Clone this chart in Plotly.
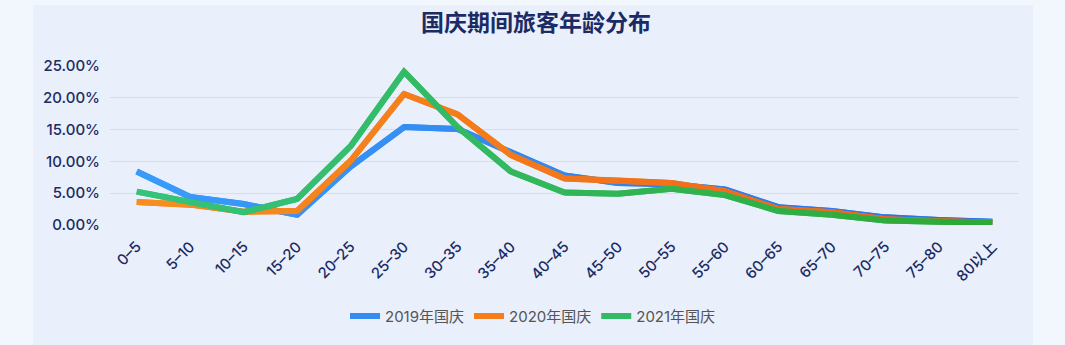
import plotly.graph_objects as go

categories = ["0–5", "5–10", "10–15", "15–20", "20–25", "25–30", "30–35", "35–40",
              "40–45", "45–50", "50–55", "55–60", "60–65", "65–70", "70–75", "75–80", "80以上"]
series_names = ["2019年国庆", "2020年国庆", "2021年国庆"]
values_2019 = [8.4, 4.4, 3.3, 1.6, 9.2, 15.4, 15.1, 11.4, 7.8, 6.6, 6.4, 5.6, 2.8, 2.2, 1.2, 0.8, 0.5]
values_2020 = [3.6, 3.2, 2.1, 2.2, 10.1, 20.6, 17.4, 11.0, 7.3, 7.0, 6.6, 5.3, 2.5, 2.0, 0.9, 0.6, 0.4]
values_2021 = [5.25, 3.6, 2.0, 4.1, 12.4, 24.1, 15.4, 8.4, 5.1, 4.9, 5.7, 4.7, 2.2, 1.6, 0.7, 0.5, 0.4]
y_tick_vals = [0, 5, 10, 15, 20, 25]
y_tick_text = ["0.00%", "5.00%", "10.00%", "15.00%", "20.00%", "25.00%"]
# gradient colours (left -> right) per series
grad_colors = [("#389cfb", "#2d6fe3"), ("#f78e1c", "#ee5f1c"), ("#35c47e", "#2fa833")]

FONT = "Inter, Noto Sans CJK SC, sans-serif"
CJK = "Noto Sans CJK SC, sans-serif"
NAVY = "#1b2b63"


def hex2rgb(h):
    h = h.lstrip("#")
    return tuple(int(h[i:i + 2], 16) for i in (0, 2, 4))


def mix(c1, c2, t):
    a, b = hex2rgb(c1), hex2rgb(c2)
    return "rgb({},{},{})".format(*[round(a[i] + (b[i] - a[i]) * t) for i in range(3)])


fig = go.Figure()
n = len(categories)
for name, vals, (c_left, c_right) in zip(series_names, [values_2019, values_2020, values_2021], grad_colors):
    # underlay (full line, mid colour) — also the legend entry
    fig.add_trace(go.Scatter(
        x=categories, y=vals, name=name, mode="lines", legendgroup=name,
        line=dict(color=mix(c_left, c_right, 0.35), width=6),
        hoverinfo="x+y+name",
    ))
    # gradient overlay, segment by segment
    for i in range(n - 1):
        fig.add_trace(go.Scatter(
            x=categories[i:i + 2], y=vals[i:i + 2], mode="lines", legendgroup=name,
            showlegend=False, hoverinfo="skip",
            line=dict(color=mix(c_left, c_right, (i + 0.5) / (n - 1)), width=6),
        ))

W, H = 1065, 345
L, R, T, B = 110, 46, 66, 117
pw, ph = W - L - R, H - T - B


def px2paper_x(px):
    return (px - L) / pw


def px2paper_y(py):
    return (H - B - py) / ph


fig.update_layout(
    width=W, height=H,
    margin=dict(l=L, r=R, t=T, b=B, pad=0),
    paper_bgcolor="#f2f6fd",
    plot_bgcolor="rgba(0,0,0,0)",
    font=dict(family=FONT, color=NAVY),
    title=dict(text="<b>国庆期间旅客年龄分布</b>", x=536 / W, xanchor="center",
               y=1 - 23 / H, yanchor="middle", font=dict(size=23, color=NAVY, family=CJK)),
    xaxis=dict(type="category", range=[-0.5, len(categories) - 0.5],
               showgrid=False, zeroline=False, showline=False,
               tickangle=-45, tickfont=dict(size=15, color=NAVY, family=FONT, weight=500),
               ticks="", ticklabelstandoff=9),
    yaxis=dict(range=[0, 25], tickvals=y_tick_vals, ticktext=y_tick_text,
               showgrid=True, gridcolor="#d9dde6", gridwidth=1,
               zeroline=False, showline=False, ticks="",
               tickfont=dict(size=15, color=NAVY, family=FONT, weight=500), ticklabelstandoff=9),
    legend=dict(orientation="h", x=px2paper_x(533), xanchor="center",
                y=px2paper_y(321), yanchor="middle",
                font=dict(size=15, color="#555555", family=FONT),
                bgcolor="rgba(0,0,0,0)", itemwidth=30, traceorder="normal"),
    showlegend=True,
    shapes=[dict(type="rect", xref="paper", yref="paper", layer="below",
                 x0=px2paper_x(33), x1=px2paper_x(1033), y0=px2paper_y(400), y1=px2paper_y(4),
                 fillcolor="#e9effb", line=dict(width=0))],
)

fig.write_html("out.html")
